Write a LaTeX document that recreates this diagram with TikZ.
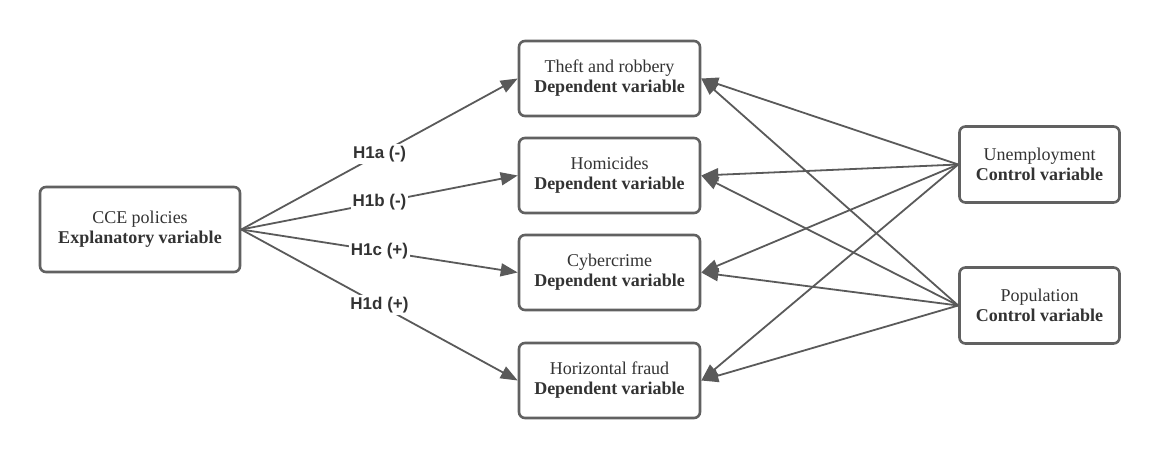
\documentclass[tikz,border=0pt]{standalone}
\usepackage{fontspec}
\setmainfont{Liberation Serif}
\newfontfamily\labelfont{Liberation Sans}
\usetikzlibrary{arrows.meta}
\definecolor{boxline}{HTML}{616161}
\definecolor{arrowc}{HTML}{5A5A5A}
\definecolor{txt}{HTML}{333333}
\begin{document}
\begin{tikzpicture}[x=1pt,y=-1pt,
  varbox/.style={draw=boxline, line width=2.6pt, rounded corners=6pt, fill=white,
    align=center, text=txt, font=\fontsize{18}{20}\selectfont, inner sep=0pt},
  conn/.style={draw=arrowc, line width=1.8pt, -{Triangle[length=17pt,width=13pt]}},
  hlabel/.style={fill=white, text=txt, font=\labelfont\bfseries\fontsize{17}{20}\selectfont, inner sep=2pt}
]
\useasboundingbox (0,0) rectangle (1160,458);
\node[varbox, minimum width=200pt, minimum height=85pt] (cce) at (140,229.5) {CCE policies\\\textbf{Explanatory variable}};
\node[varbox, minimum width=181pt, minimum height=75pt] (theft) at (609.5,78.5) {Theft and robbery\\\textbf{Dependent variable}};
\node[varbox, minimum width=181pt, minimum height=75pt] (hom) at (609.5,175.5) {Homicides\\\textbf{Dependent variable}};
\node[varbox, minimum width=181pt, minimum height=75pt] (cyb) at (609.5,272.5) {Cybercrime\\\textbf{Dependent variable}};
\node[varbox, minimum width=181pt, minimum height=75pt] (fraud) at (609.5,380.5) {Horizontal fraud\\\textbf{Dependent variable}};
\node[varbox, minimum width=160pt, minimum height=76pt] (unemp) at (1039.5,164.5) {Unemployment\\\textbf{Control variable}};
\node[varbox, minimum width=160pt, minimum height=76pt] (pop) at (1039.5,305.5) {Population\\\textbf{Control variable}};

\draw[conn] (cce.east) -- node[hlabel] {H1a (-)} (theft.west);
\draw[conn] (cce.east) -- node[hlabel] {H1b (-)} (hom.west);
\draw[conn] (cce.east) -- node[hlabel] {H1c (+)} (cyb.west);
\draw[conn] (cce.east) -- node[hlabel] {H1d (+)} (fraud.west);

\foreach \s in {unemp,pop}{
  \foreach \t in {theft,hom,cyb,fraud}{
    \draw[conn] (\s.west) -- (\t.east);
  }
}
\end{tikzpicture}
\end{document}
